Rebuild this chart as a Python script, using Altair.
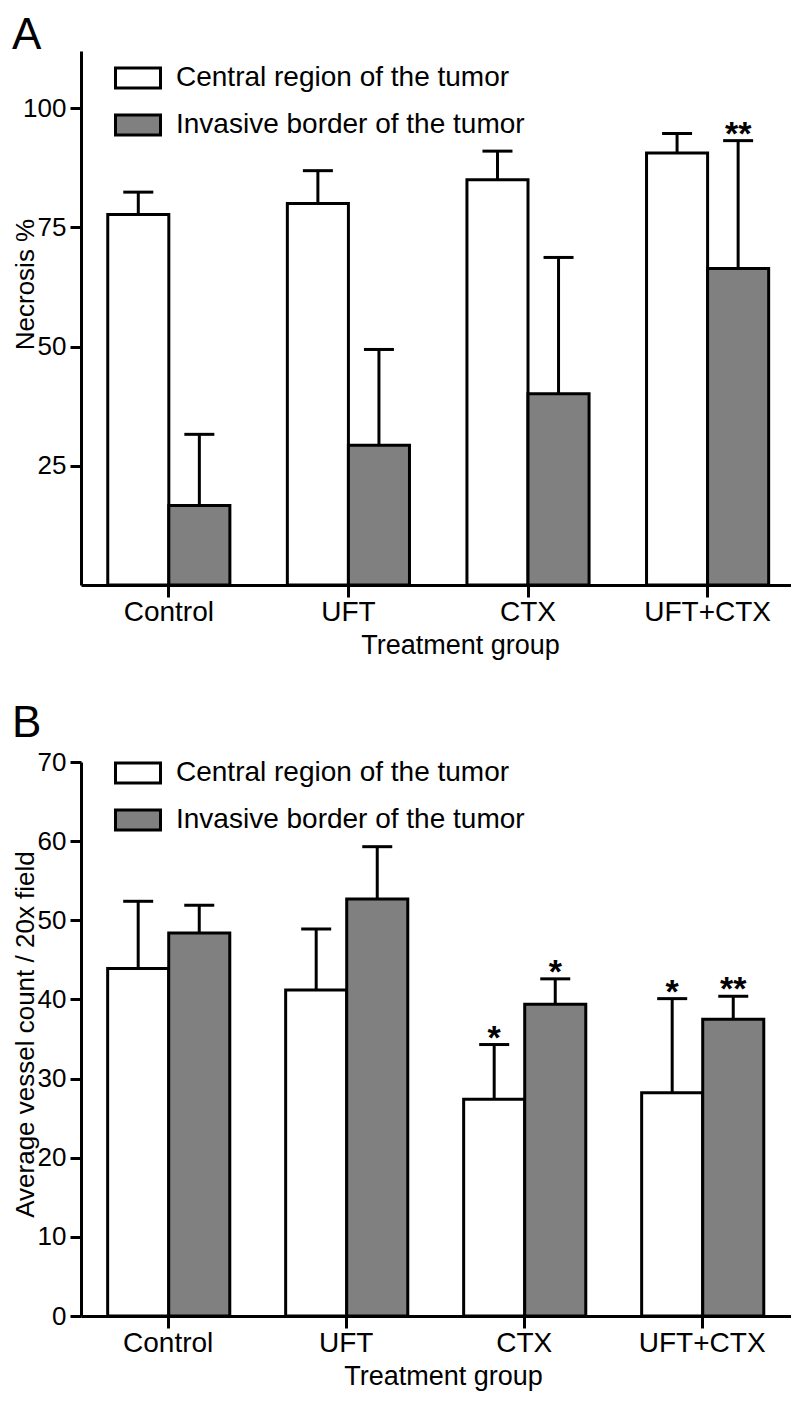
import altair as alt
import pandas as pd

FONT = "Liberation Sans"

groups = ["Control", "UFT", "CTX", "UFT+CTX"]
series = ["Central region of the tumor", "Invasive border of the tumor"]

# Panel A: necrosis %
a_central_mean = [77.7, 80.0, 85.0, 90.6]
a_central_upper = [82.4, 86.9, 91.0, 94.7]
a_border_mean = [16.7, 29.3, 40.1, 66.4]
a_border_upper = [31.6, 49.4, 68.7, 93.2]
a_central_stars = ["", "", "", ""]
a_border_stars = ["", "", "", "**"]
a_ticks = [25, 50, 75, 100]

# Panel B: average vessel count / 20x field
b_central_mean = [43.9, 41.2, 27.4, 28.2]
b_central_upper = [52.4, 48.9, 34.3, 40.1]
b_border_mean = [48.4, 52.7, 39.4, 37.5]
b_border_upper = [51.9, 59.3, 42.6, 40.4]
b_central_stars = ["", "", "*", "*"]
b_border_stars = ["", "", "*", "**"]
b_ticks = [0, 10, 20, 30, 40, 50, 60, 70]


def make_df(mc, uc, sc, mb, ub, sb):
    rows = []
    for i, g in enumerate(groups):
        rows.append(dict(group=g, series=series[0], mean=mc[i], upper=uc[i], star=sc[i]))
        rows.append(dict(group=g, series=series[1], mean=mb[i], upper=ub[i], star=sb[i]))
    return pd.DataFrame(rows)


def panel(df, letter, ymax, yvalues, ytitle, height, ytitle_y, legend_y,
          pad_outer, align, xtitle_x, title_offset):
    xenc = alt.X(
        "group:N", sort=groups,
        scale=alt.Scale(paddingInner=0.32, paddingOuter=pad_outer, align=align),
        axis=alt.Axis(title="Treatment group", labelAngle=0, tickSize=12,
                      labelPadding=1, titlePadding=6, titleX=xtitle_x,
                      labelFontSize=28, titleFontSize=27,
                      domainWidth=3, tickWidth=3),
    )
    xoff = alt.XOffset("series:N", sort=series,
                       scale=alt.Scale(paddingInner=0, paddingOuter=0))
    yscale = alt.Scale(domain=[0, ymax], nice=False, zero=True)
    yaxis = alt.Axis(values=yvalues, title=ytitle, titleX=-43, titleY=ytitle_y,
                     titleFontSize=26, grid=False, tickSize=11, labelPadding=4)
    base = alt.Chart(df)
    bars = base.mark_bar(stroke="black", strokeWidth=3).encode(
        x=xenc, xOffset=xoff,
        y=alt.Y("mean:Q", scale=yscale, axis=yaxis),
        fill=alt.Fill(
            "series:N", sort=series,
            scale=alt.Scale(domain=series, range=["white", "#808080"]),
            legend=alt.Legend(
                title=None, orient="none", legendX=33, legendY=legend_y,
                symbolType="M-1,-0.444H1V0.444H-1Z", symbolSize=2025,
                symbolStrokeColor="black", symbolStrokeWidth=3,
                labelFontSize=28, labelFont=FONT, labelColor="black",
                labelLimit=600, rowPadding=7, labelOffset=14, padding=0,
            ),
        ),
    )
    rules = base.mark_rule(color="black", strokeWidth=3, opacity=1).encode(
        x=xenc, xOffset=xoff,
        y=alt.Y("mean:Q", scale=yscale, axis=yaxis), y2="upper:Q",
    )
    caps = base.mark_tick(color="black", thickness=3, size=30, opacity=1).encode(
        x=xenc, xOffset=xoff,
        y=alt.Y("upper:Q", scale=yscale, axis=yaxis),
    )
    stars = base.mark_text(fontSize=34, font=FONT, fontWeight="bold",
                           baseline="alphabetic", dy=4, color="black").encode(
        x=xenc, xOffset=xoff,
        y=alt.Y("upper:Q", scale=yscale, axis=yaxis),
        text="star:N",
    )
    return alt.layer(bars, rules, caps, stars).properties(
        width=710, height=height,
        title=alt.TitleParams(letter, anchor="start", fontSize=44,
                              fontWeight="normal", font=FONT, color="black",
                              offset=title_offset),
    )


dfA = make_df(a_central_mean, a_central_upper, a_central_stars,
              a_border_mean, a_border_upper, a_border_stars)
dfB = make_df(b_central_mean, b_central_upper, b_central_stars,
              b_border_mean, b_border_upper, b_border_stars)

chartA = panel(dfA, "A", 112, a_ticks, "Necrosis %", 534, 233, 3,
               0.1367, 0.545, 379, -7)
chartB = panel(dfB, "B", 70, b_ticks, "Average vessel count / 20x field", 554,
               272, -13, 0.1544, 0.485, 362, 3)

chart = alt.vconcat(chartA, chartB, spacing=44).resolve_scale(
    x="independent", y="independent", fill="independent"
).resolve_legend(fill="independent").configure_axis(
    domainColor="black", domainWidth=3, tickColor="black", tickWidth=3,
    labelColor="black", titleColor="black", labelFont=FONT, titleFont=FONT,
    labelFontSize=26, titleFontSize=27, titleFontWeight="normal", grid=False,
).configure_view(stroke=None).properties(
    padding={"left": 4, "top": 6, "right": 0, "bottom": 4},
    background="white",
)

chart.save("out.html", embed_options={"renderer": "svg", "actions": False})
